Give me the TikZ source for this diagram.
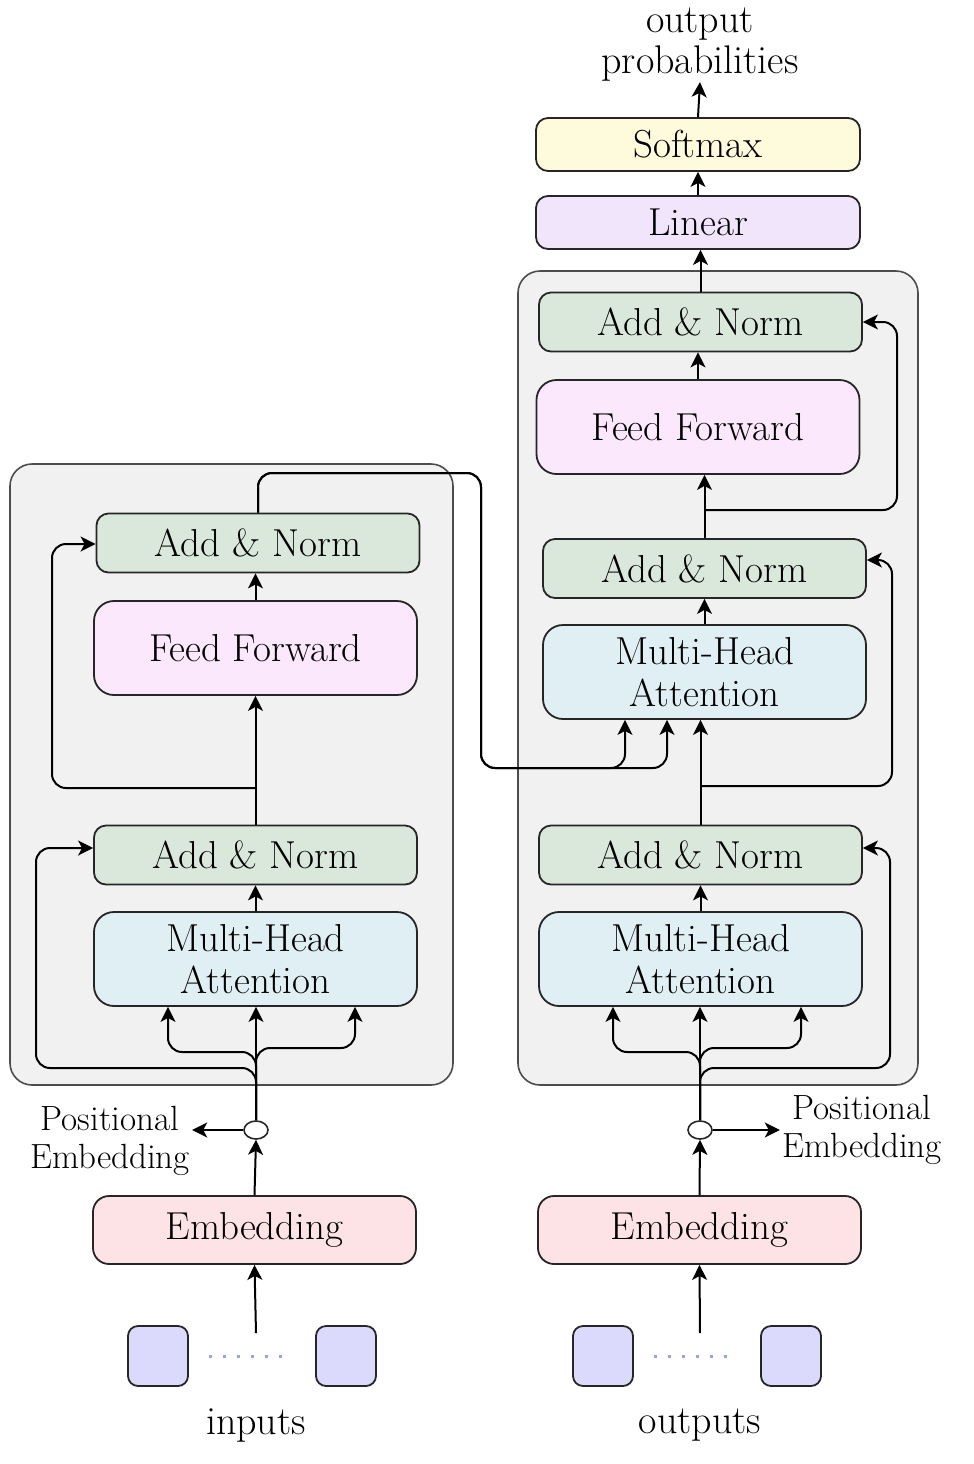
\documentclass[tikz,border=0pt]{standalone}
\usetikzlibrary{arrows.meta,shapes.geometric,calc}
\definecolor{cAN}{RGB}{218,232,220}
\definecolor{cFF}{RGB}{252,232,252}
\definecolor{cMHA}{RGB}{224,239,244}
\definecolor{cEMB}{RGB}{253,227,230}
\definecolor{cSQ}{RGB}{220,218,252}
\definecolor{cSOFT}{RGB}{254,250,220}
\definecolor{cLIN}{RGB}{241,229,252}
\definecolor{cCONT}{RGB}{241,241,241}
\definecolor{cDOT}{RGB}{150,165,222}
\tikzset{
  blk/.style={draw=black!85, line width=0.9pt, rounded corners=6pt, align=center, inner sep=0pt,
    font=\fontsize{19.5}{21}\selectfont},
  anbox/.style={blk, fill=cAN, minimum width=161.5pt, minimum height=29.5pt},
  ffbox/.style={blk, fill=cFF, rounded corners=10pt, minimum width=161.5pt, minimum height=47pt},
  mhabox/.style={blk, fill=cMHA, rounded corners=10pt, minimum width=161.5pt, minimum height=47pt},
  embbox/.style={blk, fill=cEMB, rounded corners=8pt, minimum width=161.5pt, minimum height=34pt},
  sqbox/.style={blk, fill=cSQ, rounded corners=5pt, minimum width=30pt, minimum height=30pt},
  topbox/.style={blk, minimum width=162pt, minimum height=26.5pt},
  contbox/.style={draw=black!70, line width=0.8pt, fill=cCONT, rounded corners=11pt, inner sep=0pt},
  pebox/.style={draw=black!85, line width=0.8pt, ellipse, fill=white, minimum width=12pt, minimum height=9pt, inner sep=0pt},
  lbl/.style={align=center, inner sep=1pt, font=\fontsize{20}{20.5}\selectfont},
  pelbl/.style={align=center, inner sep=1pt, font=\fontsize{17.5}{19}\selectfont},
  arr/.style={line width=1pt, -{Stealth[length=7.5pt,width=7.5pt,inset=2pt]}},
  rc/.style={rounded corners=7pt},
  dots/.style={cDOT, line width=1.5pt, dash pattern=on 1.5pt off 5.5pt}
}
\begin{document}
\begin{tikzpicture}[x=0.5pt,y=-0.5pt]
\useasboundingbox (0,0) rectangle (974,1464);
% containers
\node[contbox, minimum width=221.5pt, minimum height=310.5pt] (enc) at (231.5,774.5) {};
\node[contbox, minimum width=200pt, minimum height=407pt] (dec) at (718,678) {};
% encoder
\node[anbox] (lan2) at (258,543) {Add \& Norm};
\node[ffbox] (lff) at (255.5,648) {Feed Forward};
\node[anbox] (lan1) at (255.5,855) {Add \& Norm};
\node[mhabox] (lmha) at (255.5,959) {Multi-Head\\Attention};
\node[embbox] (lemb) at (254.5,1230) {Embedding};
\node[sqbox] (lsq1) at (158,1356) {};
\node[sqbox] (lsq2) at (346,1356) {};
\node[lbl] (lin) at (256,1425) {inputs};
\node[pebox] (lpe) at (256,1130) {};
\node[pelbl] (lpetxt) at (110,1141) {Positional\\Embedding};
\coordinate (lsrc) at (256,1333);
% decoder
\node[topbox, fill=cSOFT] (rsoft) at (698,144.5) {Softmax};
\node[topbox, fill=cLIN] (rlin) at (698,222.5) {Linear};
\node[anbox] (ran3) at (700.5,322) {Add \& Norm};
\node[ffbox] (rff) at (698,427) {Feed Forward};
\node[anbox] (ran2) at (704.5,568.5) {Add \& Norm};
\node[mhabox] (rmha2) at (704.5,672) {Multi-Head\\Attention};
\node[anbox] (ran1) at (700.5,855) {Add \& Norm};
\node[mhabox] (rmha1) at (700.5,959) {Multi-Head\\Attention};
\node[embbox] (remb) at (699.5,1230) {Embedding};
\node[sqbox] (rsq1) at (603,1356) {};
\node[sqbox] (rsq2) at (791,1356) {};
\node[lbl] (rout) at (700,1425) {outputs};
\node[pebox] (rpe) at (700,1130) {};
\node[pelbl] (rpetxt) at (862,1130) {Positional\\Embedding};
\node[lbl, inner sep=0pt] (outtxt) at (700,45) {output\\probabilities};
\coordinate (rsrc) at (700,1333);
% dotted
\draw[dots] ([xshift=10pt]lsq1.east) -- ([xshift=-12pt]lsq2.west);
\draw[dots] ([xshift=10pt]rsq1.east) -- ([xshift=-12pt]rsq2.west);
% encoder connectors
\draw[arr] (lsrc) -- (lemb.south);
\draw[arr] (lemb.north) -- (lpe.south);
\draw[arr] (lpe.west) -- (lpetxt.east |- lpe.west);
\draw[arr,rc] (lpe.north) -- (256,1068) -- (36,1068) -- (36,848) -- ([yshift=3.5pt]lan1.west);
\draw[arr,rc] (lpe.north) -- (256,1052) -- (168,1052) -- (168,0 |- lmha.south);
\draw[arr,rc] (lpe.north) -- (256,1048) -- (355,1048) -- (355,0 |- lmha.south);
\draw[arr] (lpe.north) -- (lpe.north |- lmha.south);
\draw[arr] (lmha.north) -- (lan1.south);
\draw[arr] (lan1.north) -- (lan1.north |- lff.south);
\draw[arr,rc] (lan1.north |- 0,788) -- (52,788) -- (52,544) -- (lan2.west |- 0,544);
\draw[arr] (lff.north) -- (lff.north |- lan2.south);
\draw[arr,rc] (lan2.north) -- (258,473) -- (481,473) -- (481,768) -- (625,768) -- (625,0 |- rmha2.south);
\draw[arr,rc] (lan2.north) -- (258,473) -- (481,473) -- (481,768) -- (667,768) -- (667,0 |- rmha2.south);
% decoder connectors
\draw[arr] (rsrc) -- (remb.south);
\draw[arr] (remb.north) -- (rpe.south);
\draw[arr] (rpe.east) -- (rpetxt.west |- rpe.east);
\draw[arr,rc] (rpe.north) -- (700,1068) -- (890,1068) -- (890,848) -- ([yshift=3.5pt]ran1.east);
\draw[arr,rc] (rpe.north) -- (700,1052) -- (613,1052) -- (613,0 |- rmha1.south);
\draw[arr,rc] (rpe.north) -- (700,1048) -- (801,1048) -- (801,0 |- rmha1.south);
\draw[arr] (rpe.north) -- (rpe.north |- rmha1.south);
\draw[arr] (rmha1.north) -- (ran1.south);
\draw[arr] (ran1.north) -- (ran1.north |- rmha2.south);
\draw[arr,rc] (ran1.north |- 0,786) -- (892,786) -- (892,560) -- ([yshift=4.25pt]ran2.east);
\draw[arr] (rmha2.north) -- (ran2.south);
\draw[arr] (ran2.north) -- (ran2.north |- rff.south);
\draw[arr,rc] (ran2.north |- 0,510) -- (897,510) -- (897,322) -- (ran3.east);
\draw[arr] (rff.north) -- (rff.north |- ran3.south);
\draw[arr] (ran3.north) -- (ran3.north |- rlin.south);
\draw[arr] (rlin.north) -- (rsoft.south);
\draw[arr] (rsoft.north) -- (outtxt.south);
\end{tikzpicture}
\end{document}
